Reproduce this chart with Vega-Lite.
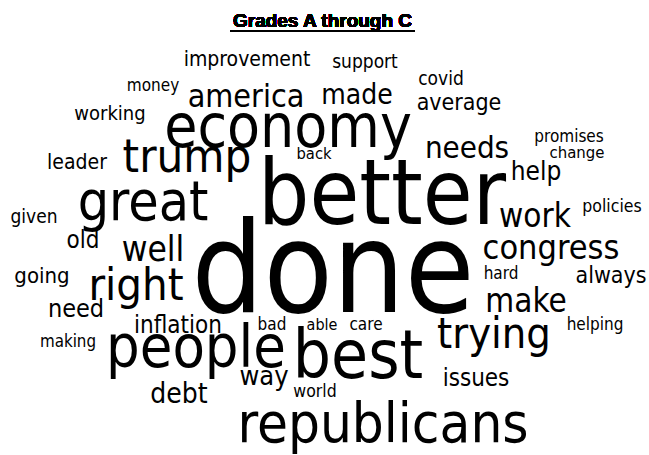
{
  "$schema": "https://vega.github.io/schema/vega-lite/v6.json",
  "width": 649,
  "height": 455,
  "padding": 0,
  "autosize": "none",
  "background": "white",
  "config": {"view": {"stroke": null}},
  "data": {
    "values": [
      {"word": "done", "x": 333, "y": 312, "freq": 126},
      {"word": "better", "x": 382, "y": 224, "freq": 90},
      {"word": "best", "x": 358, "y": 378, "freq": 67},
      {"word": "economy", "x": 288, "y": 147, "freq": 60},
      {"word": "people", "x": 196, "y": 367, "freq": 59},
      {"word": "republicans", "x": 383, "y": 442, "freq": 56},
      {"word": "great", "x": 143, "y": 220, "freq": 55},
      {"word": "trump", "x": 187, "y": 172, "freq": 47},
      {"word": "right", "x": 136, "y": 300, "freq": 45},
      {"word": "trying", "x": 494, "y": 348, "freq": 43},
      {"word": "well", "x": 153, "y": 261, "freq": 35},
      {"word": "congress", "x": 551, "y": 259, "freq": 34},
      {"word": "work", "x": 535, "y": 227, "freq": 33},
      {"word": "make", "x": 526, "y": 312, "freq": 33},
      {"word": "america", "x": 246, "y": 107, "freq": 32},
      {"word": "needs", "x": 467, "y": 158, "freq": 31},
      {"word": "made", "x": 357, "y": 104, "freq": 28},
      {"word": "debt", "x": 179, "y": 403, "freq": 28},
      {"word": "way", "x": 264, "y": 385, "freq": 27},
      {"word": "help", "x": 536, "y": 180, "freq": 26},
      {"word": "need", "x": 76, "y": 317, "freq": 25},
      {"word": "issues", "x": 476, "y": 386, "freq": 24},
      {"word": "inflation", "x": 178, "y": 333, "freq": 24},
      {"word": "old", "x": 83, "y": 248, "freq": 24},
      {"word": "average", "x": 459, "y": 110, "freq": 23},
      {"word": "always", "x": 611, "y": 283, "freq": 23},
      {"word": "going", "x": 42, "y": 283, "freq": 22},
      {"word": "improvement", "x": 247, "y": 66, "freq": 21},
      {"word": "leader", "x": 77, "y": 169, "freq": 21},
      {"word": "working", "x": 110, "y": 120, "freq": 20},
      {"word": "covid", "x": 441, "y": 85, "freq": 19},
      {"word": "support", "x": 365, "y": 68, "freq": 19},
      {"word": "given", "x": 34, "y": 223, "freq": 19},
      {"word": "policies", "x": 612, "y": 212, "freq": 17.5},
      {"word": "world", "x": 315, "y": 397, "freq": 17.5},
      {"word": "hard", "x": 501, "y": 279, "freq": 17},
      {"word": "money", "x": 153, "y": 91, "freq": 17},
      {"word": "promises", "x": 569, "y": 142, "freq": 17},
      {"word": "helping", "x": 595, "y": 330, "freq": 17},
      {"word": "bad", "x": 272, "y": 330, "freq": 17},
      {"word": "care", "x": 366, "y": 330, "freq": 17},
      {"word": "making", "x": 68, "y": 347, "freq": 16.8},
      {"word": "change", "x": 577, "y": 158, "freq": 16.6},
      {"word": "back", "x": 314, "y": 159, "freq": 16.4},
      {"word": "able", "x": 322, "y": 330, "freq": 16}
    ]
  },
  "layer": [
    {
      "mark": {
        "type": "text",
        "font": "DejaVu Sans Condensed",
        "align": "center",
        "baseline": "alphabetic",
        "color": "black"
      },
      "encoding": {
        "x": {"field": "x", "type": "quantitative", "scale": {"domain": [0, 649], "nice": false, "zero": false}, "axis": null},
        "y": {"field": "y", "type": "quantitative", "scale": {"domain": [0, 455], "reverse": true, "nice": false, "zero": false}, "axis": null},
        "size": {"field": "freq", "type": "quantitative", "scale": {"domain": [0, 126], "range": [0, 126]}, "legend": null},
        "text": {"field": "word"}
      }
    },
    {
      "mark": {
        "type": "text",
        "font": "Liberation Sans",
        "fontWeight": "bold",
        "fontSize": 19,
        "align": "center",
        "baseline": "alphabetic",
        "color": "black"
      },
      "encoding": {
        "x": {"datum": 322.5},
        "y": {"datum": 27},
        "text": {"value": "Grades A through C"}
      }
    },
    {
      "mark": {"type": "rule", "color": "black", "strokeWidth": 2},
      "encoding": {
        "x": {"datum": 230},
        "x2": {"datum": 415},
        "y": {"datum": 31}
      }
    }
  ]
}
